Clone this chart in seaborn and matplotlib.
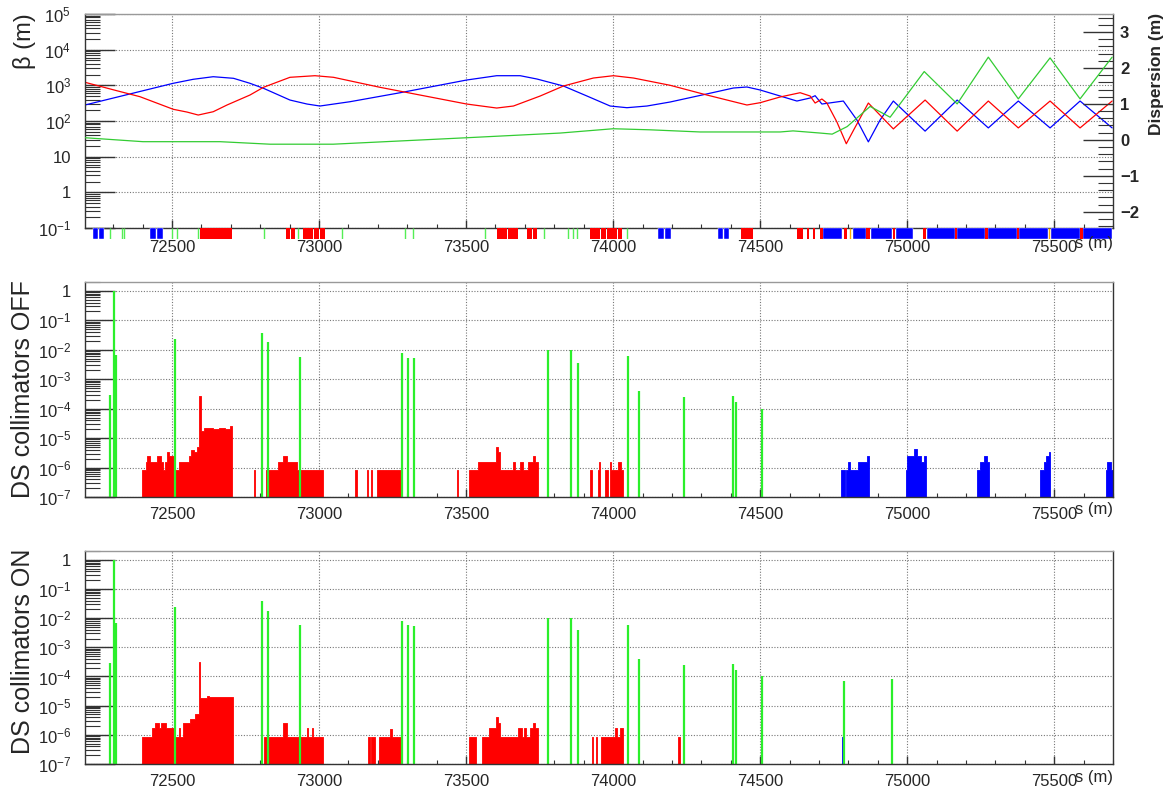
from __future__ import annotations

import matplotlib

matplotlib.use("Agg")
import matplotlib.pyplot as plt
import matplotlib.ticker as mticker
import numpy as np
import pandas as pd
import seaborn as sns

S_MIN, S_MAX = 72204, 75700

# optics (s in m)
betx_s = [72204, 72312, 72391, 72504, 72551, 72589, 72640, 72687, 72765, 72811,
          72901, 72986, 73049, 73207, 73502, 73604, 73661, 73752, 73831, 73933,
          74001, 74069, 74194, 74319, 74455, 74500, 74568, 74636, 74670, 74687,
          74710, 74727, 74761, 74793, 74818, 74868, 74953, 75061, 75170, 75276,
          75378, 75486, 75588, 75697]
betx = [1216, 707, 480, 213, 178, 147, 182, 281, 535, 881,
        1679, 1862, 1679, 881, 299, 231, 263, 502, 957, 1604,
        1862, 1604, 1002, 535, 281, 326, 471, 621, 502, 319,
        414, 319, 94, 23, 56, 319, 60, 387, 52, 363,
        64, 363, 64, 363]

bety_s = [72204, 72504, 72572, 72640, 72709, 72765, 72811, 72901, 72959, 73003,
          73105, 73276, 73502, 73604, 73684, 73741, 73831, 73911, 73990, 74047,
          74115, 74194, 74307, 74409, 74455, 74500, 74568, 74625, 74670, 74687,
          74710, 74783, 74829, 74868, 74908, 74953, 75061, 75170, 75276, 75378,
          75486, 75588, 75697]
bety = [281, 1140, 1476, 1745, 1574, 1140, 826, 387, 299, 263,
        347, 621, 1410, 1862, 1862, 1503, 957, 502, 263, 236,
        263, 341, 546, 841, 898, 740, 502, 363, 441, 512,
        299, 363, 107, 26, 107, 363, 52, 387, 64, 363,
        64, 363, 64]

disp_s = [72204, 72401, 72663, 72833, 73048, 73276, 73503, 73820, 74000, 74126,
          74296, 74568, 74612, 74704, 74745, 74796, 74874, 74942, 75058, 75170,
          75276, 75378, 75486, 75588, 75697]
disp = [0.06, -0.05, -0.05, -0.12, -0.12, -0.03, 0.06, 0.19, 0.31, 0.28,
        0.22, 0.22, 0.25, 0.19, 0.16, 0.37, 0.93, 0.63, 1.90, 1.00,
        2.30, 1.14, 2.28, 1.14, 2.30]

# machine layout strip
dip_start = [72595, 72613, 72630, 72651, 72668, 72688, 72888, 72904, 72946, 72964,
             72982, 73002, 73605, 73623, 73641, 73660, 73708, 73726, 73922, 73940,
             73959, 73978, 73997, 74015, 74435, 74456, 74626, 74660, 74680, 74704,
             74786, 74861, 74952, 75054, 75163, 75265, 75374, 75588]
dip_end = [72611, 72628, 72649, 72666, 72686, 72704, 72902, 72918, 72962, 72980,
           73000, 73020, 73621, 73639, 73658, 73677, 73724, 73742, 73938, 73957,
           73976, 73995, 74013, 74031, 74454, 74476, 74646, 74667, 74687, 74714,
           74796, 74874, 74959, 75065, 75170, 75276, 75381, 75599]
quad_start = [72231, 72252, 72425, 72449, 74153, 74177, 74357, 74378, 74714, 74816,
              74878, 74963, 75068, 75170, 75276, 75381, 75489, 75599]
quad_end = [72248, 72269, 72446, 72469, 74174, 74197, 74375, 74395, 74779, 74861,
            74949, 75020, 75163, 75265, 75374, 75480, 75588, 75697]
coll_pos = [72289, 72330, 72337, 72500, 72517, 72588, 72813, 72929, 73078, 73293,
            73320, 73565, 73765, 73847, 73864, 73878, 74048]
other_pos = [74806, 75484]

# loss map, DS collimators OFF
red_off_start = [72399, 72412, 72416, 72425, 72448, 72463, 72470, 72476, 72484, 72490,
                 72508, 72522, 72556, 72563, 72573, 72584, 72592, 72600, 72607, 72640,
                 72660, 72680, 72697, 72780, 72820, 72862, 72879, 72890, 72924, 73122,
                 73162, 73176, 73196, 73468, 73511, 73539, 73602, 73610, 73616, 73658,
                 73667, 73684, 73693, 73709, 73727, 73735, 73922, 73948, 73952, 73973,
                 73990, 73994, 74017, 74027]
red_off_end = [72412, 72416, 72425, 72448, 72463, 72470, 72476, 72484, 72490, 72508,
               72522, 72556, 72563, 72573, 72584, 72592, 72600, 72607, 72640, 72660,
               72680, 72697, 72705, 72783, 72862, 72879, 72890, 72924, 73015, 73128,
               73166, 73181, 73281, 73474, 73539, 73602, 73610, 73616, 73658, 73667,
               73684, 73693, 73709, 73727, 73735, 73743, 73927, 73952, 73956, 73982,
               73994, 74017, 74027, 74032]
red_off_val = [8.3e-7, 1.6e-6, 2.5e-6, 1.6e-6, 2.5e-6, 1.6e-6, 8.3e-7, 1.6e-6, 3.5e-6, 2.5e-6,
               8.3e-7, 1.6e-6, 2.5e-6, 4.0e-6, 3.5e-6, 4.9e-6, 2.6e-4, 1.8e-5, 2.2e-5, 2.0e-5,
               2.2e-5, 2.0e-5, 2.6e-5, 8.3e-7, 8.3e-7, 1.6e-6, 2.5e-6, 1.6e-6, 8.3e-7, 8.3e-7,
               8.3e-7, 8.3e-7, 8.3e-7, 8.3e-7, 8.3e-7, 1.6e-6, 4.9e-6, 3.5e-6, 8.3e-7, 1.6e-6,
               8.3e-7, 1.6e-6, 8.3e-7, 1.6e-6, 2.5e-6, 1.6e-6, 8.3e-7, 8.3e-7, 1.6e-6, 8.3e-7,
               1.6e-6, 8.3e-7, 1.6e-6, 8.3e-7]
blue_off_start = [74775, 74793, 74800, 74806, 74832, 74863, 74995, 75001, 75024, 75035,
                  75046, 75056, 75239, 75246, 75260, 75271, 75452, 75464, 75473, 75481,
                  75677, 75681, 75693]
blue_off_end = [74789, 74800, 74806, 74832, 74863, 74871, 75001, 75024, 75035, 75046,
                75056, 75064, 75246, 75260, 75271, 75277, 75464, 75473, 75481, 75486,
                75681, 75693, 75700]
blue_off_val = [8e-7, 8e-7, 1.6e-6, 8e-7, 1.6e-6, 2.5e-6, 8e-7, 2.5e-6, 4.2e-6, 2.5e-6,
                1.6e-6, 2.5e-6, 8e-7, 1.6e-6, 2.5e-6, 1.6e-6, 8e-7, 1.6e-6, 2.5e-6, 3.4e-6,
                8e-7, 1.6e-6, 8e-7]
coll_off_s = [72290, 72302, 72311, 72509, 72806, 72827, 72934, 73282, 73303, 73323,
              73779, 73858, 73879, 74052, 74087, 74242, 74407, 74418, 74506]
coll_off_val = [3e-4, 1.0, 6.4e-3, 2.4e-2, 3.7e-2, 1.8e-2, 5.6e-3, 7.7e-3, 5.3e-3, 5.2e-3,
                1.0e-2, 1.0e-2, 3.6e-3, 6e-3, 3.9e-4, 2.4e-4, 2.7e-4, 1.7e-4, 1.0e-4]

# loss map, DS collimators ON
red_on_start = [72397, 72431, 72442, 72454, 72463, 72479, 72507, 72522, 72527, 72536,
                72561, 72578, 72590, 72596, 72618, 72624, 72814, 72879, 72890, 72958,
                72964, 72975, 72981, 73168, 73177, 73205, 73240, 73247, 73511, 73553,
                73579, 73602, 73610, 73616, 73678, 73689, 73697, 73704, 73718, 73727,
                73735, 73927, 73941, 73959, 74008, 74014, 74024, 74220]
red_on_end = [72431, 72442, 72454, 72463, 72479, 72507, 72522, 72527, 72536, 72561,
              72578, 72590, 72596, 72618, 72624, 72706, 72879, 72890, 72958, 72964,
              72975, 72981, 73015, 73173, 73189, 73240, 73247, 73281, 73533, 73579,
              73602, 73610, 73616, 73678, 73689, 73697, 73704, 73718, 73727, 73735,
              73743, 73933, 73944, 74008, 74014, 74024, 74032, 74228]
red_on_val = [8.3e-7, 1.7e-6, 2.5e-6, 1.7e-6, 2.5e-6, 1.7e-6, 8.3e-7, 1.7e-6, 8.3e-7, 2.5e-6,
              3.5e-6, 5e-6, 3.1e-4, 1.9e-5, 2.2e-5, 2.0e-5, 8.3e-7, 2.5e-6, 8.3e-7, 1.7e-6,
              8.3e-7, 1.7e-6, 8.3e-7, 8.3e-7, 8.3e-7, 8.3e-7, 1.6e-6, 8.3e-7, 8.3e-7, 8.3e-7,
              1.7e-6, 4e-6, 2.5e-6, 8.3e-7, 1.7e-6, 8.3e-7, 1.7e-6, 8.3e-7, 1.7e-6, 2.5e-6,
              1.7e-6, 8.3e-7, 8.3e-7, 8.3e-7, 1.7e-6, 8.3e-7, 1.7e-6, 8.3e-7]
blue_on_start = [74780]
blue_on_end = [74783]
blue_on_val = [8.3e-7]
coll_on_s = [72290, 72302, 72311, 72509, 72806, 72827, 72934, 73282, 73303, 73323,
             73779, 73858, 73879, 74052, 74087, 74242, 74407, 74418, 74506, 74786, 74948]
coll_on_val = [3e-4, 1.0, 6.6e-3, 2.4e-2, 3.9e-2, 1.8e-2, 5.6e-3, 7.9e-3, 5.8e-3, 5.5e-3,
               1.05e-2, 1.0e-2, 3.9e-3, 5.8e-3, 3.9e-4, 2.5e-4, 2.6e-4, 1.7e-4, 1.0e-4, 6.8e-5, 8.1e-5]

RED, BLUE, GREEN = "#ff0000", "#0000ff", "#2bef2b"
FW, FH = 1173, 794

sns.set_theme(style="white")
plt.rcParams["font.family"] = ["Liberation Sans", "DejaVu Sans"]
plt.rcParams["mathtext.fontset"] = "custom"
plt.rcParams["mathtext.rm"] = "Liberation Sans"
plt.rcParams["mathtext.default"] = "regular"


def rect(top_px, bottom_px):
    return [85 / FW, 1 - bottom_px / FH, 1028 / FW, (bottom_px - top_px) / FH]


def frame(ax):
    for side, sp in ax.spines.items():
        sp.set_visible(True)
        sp.set_color("#999999" if side == "top" else "#333333")
        sp.set_linewidth(1.0)


def log_axis(ax, lo_exp, hi_exp, ymax, labels):
    ax.set_yscale("log")
    ax.set_ylim(10.0 ** lo_exp, ymax)
    ax.yaxis.set_major_locator(mticker.FixedLocator([10.0 ** e for e in range(lo_exp, hi_exp + 1)]))
    ax.yaxis.set_major_formatter(mticker.FixedFormatter(labels))
    ax.yaxis.set_minor_locator(mticker.LogLocator(base=10, subs=np.arange(2, 10), numticks=30))
    ax.yaxis.set_minor_formatter(mticker.NullFormatter())
    ax.tick_params(axis="y", which="major", direction="in", length=21.6, width=1, color="#333333",
                   left=True, right=False, labelsize=12, pad=10)
    ax.tick_params(axis="y", which="minor", direction="in", length=10.8, width=0.8, color="#333333",
                   left=True, right=False)


def s_axis(ax, pad):
    ax.set_xlim(S_MIN, S_MAX)
    ax.xaxis.set_major_locator(mticker.MultipleLocator(500))
    ax.xaxis.set_minor_locator(mticker.MultipleLocator(100))
    ax.xaxis.set_major_formatter(mticker.FormatStrFormatter("%d"))
    ax.tick_params(axis="x", which="major", direction="in", length=6, width=1, color="#333333",
                   bottom=True, top=False, labelsize=12, pad=pad)
    ax.tick_params(axis="x", which="minor", direction="in", length=3, width=0.8, color="#333333",
                   bottom=True, top=False)
    ax.grid(True, which="major", linestyle=(0, (1, 1.5)), color="#777777", linewidth=0.8)
    ax.set_xlabel("")
    ax.set_ylabel("")


def loss_hist(ax, starts, ends, vals, color):
    # bins as a plain list: seaborn compares bins to "auto"
    edges = sorted(set(starts) | set(ends))
    bins_df = pd.DataFrame({
        "s": (np.asarray(starts) + np.asarray(ends)) / 2,
        "loss": np.asarray(vals, dtype=float),
    })
    sns.histplot(data=bins_df, x="s", weights="loss", bins=edges, element="step", fill=True,
                 color=color, alpha=1, linewidth=0.6, edgecolor=color, ax=ax)


fig = plt.figure(figsize=(FW / 100, FH / 100), dpi=100)

# --- optics panel
ax_top = fig.add_axes(rect(14, 228))
sns.lineplot(x=bety_s, y=bety, color=BLUE, lw=0.9, estimator=None, sort=False, ax=ax_top)
sns.lineplot(x=betx_s, y=betx, color=RED, lw=0.9, estimator=None, sort=False, ax=ax_top)
log_axis(ax_top, -1, 5, 1e5,
         ["$10^{-1}$", "1", "10", "$10^{2}$", "$10^{3}$", "$10^{4}$", "$10^{5}$"])
s_axis(ax_top, pad=9)
frame(ax_top)

ax_disp = ax_top.twinx()
sns.lineplot(x=disp_s, y=disp, color="#33cc33", lw=0.9, estimator=None, sort=False, ax=ax_disp)
ax_disp.set_ylim(-2.45, 3.5)
ax_disp.set_xlim(S_MIN, S_MAX)
ax_disp.yaxis.set_major_locator(mticker.MultipleLocator(1))
ax_disp.yaxis.set_minor_locator(mticker.MultipleLocator(0.2))
ax_disp.tick_params(axis="y", which="major", direction="in", length=21.6, width=1, color="#333333",
                    right=True, left=False, labelright=True, labelleft=False, labelsize=12, pad=5)
ax_disp.tick_params(axis="y", which="minor", direction="in", length=10.8, width=0.8,
                    color="#333333", right=True, left=False)
for lab in ax_disp.get_yticklabels():
    lab.set_fontweight("bold")
ax_disp.set_ylabel("")
ax_disp.grid(False)
for sp in ax_disp.spines.values():
    sp.set_visible(False)

# --- layout strip under the optics panel
ax_strip = fig.add_axes(rect(228, 239), sharex=ax_top)
ax_strip.broken_barh([(a, b - a) for a, b in zip(quad_start, quad_end)], (0, 1),
                     facecolors=BLUE, edgecolor="white", linewidth=0.3)
ax_strip.broken_barh([(a, b - a) for a, b in zip(dip_start, dip_end)], (0, 1),
                     facecolors=RED, edgecolor="none")
ax_strip.vlines(coll_pos, 0, 1, color="#55ee55", lw=1.0)
ax_strip.vlines(other_pos, 0, 1, color="#ffaa00", lw=1.0)
ax_strip.set_ylim(0, 1)
ax_strip.axis("off")

# --- loss maps
ax_off = fig.add_axes(rect(282, 497))
loss_hist(ax_off, red_off_start, red_off_end, red_off_val, RED)
loss_hist(ax_off, blue_off_start, blue_off_end, blue_off_val, BLUE)
ax_off.vlines(coll_off_s, 1e-7, coll_off_val, color=GREEN, lw=1.6)

ax_on = fig.add_axes(rect(551, 764))
loss_hist(ax_on, red_on_start, red_on_end, red_on_val, RED)
loss_hist(ax_on, blue_on_start, blue_on_end, blue_on_val, BLUE)
ax_on.vlines(coll_on_s, 1e-7, coll_on_val, color=GREEN, lw=1.6)

loss_labels = ["$10^{-7}$", "$10^{-6}$", "$10^{-5}$", "$10^{-4}$", "$10^{-3}$", "$10^{-2}$",
               "$10^{-1}$", "1"]
for ax in (ax_off, ax_on):
    log_axis(ax, -7, 0, 2.0, loss_labels)
    s_axis(ax, pad=7)
    frame(ax)

# --- axis titles (ROOT style placement)
fig.text(24 / FW, 1 - 13 / FH, "β (m)", rotation=90, ha="center", va="top", fontsize=17)
fig.text(1157 / FW, 1 - 13 / FH, "Dispersion (m)", rotation=90, ha="center", va="top",
         fontsize=12.5, fontweight="bold")
fig.text(23 / FW, 1 - 280 / FH, "DS collimators OFF", rotation=90, ha="center", va="top", fontsize=18)
fig.text(23 / FW, 1 - 549 / FH, "DS collimators ON", rotation=90, ha="center", va="top", fontsize=18)
for top_px in (236, 502, 770):
    fig.text(1113 / FW, 1 - top_px / FH, "s (m)", ha="right", va="top", fontsize=12)

fig.savefig("out.png", dpi=100)
